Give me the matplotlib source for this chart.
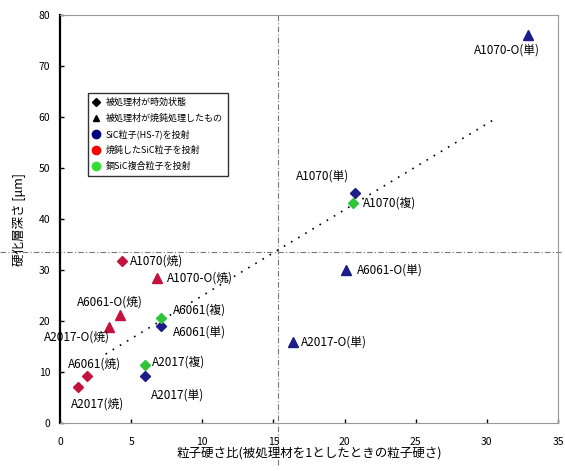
import matplotlib
matplotlib.use("Agg")
import matplotlib.pyplot as plt
from matplotlib.lines import Line2D

plt.rcParams['font.family'] = ['Noto Sans CJK JP', 'DejaVu Sans']

# ---- data ----
labels = ["A1070-O(単)", "A1070(単)", "A6061-O(単)", "A2017-O(単)", "A6061(単)", "A2017(単)",
          "A1070(焼)", "A1070-O(焼)", "A6061-O(焼)", "A2017-O(焼)", "A6061(焼)", "A2017(焼)",
          "A1070(複)", "A6061(複)", "A2017(複)"]
hardness_ratio = [32.9, 20.7, 20.1, 16.4, 7.1, 6.0,
                  4.35, 6.8, 4.2, 3.45, 1.9, 1.3,
                  20.6, 7.1, 6.0]
depth = [76.0, 45.1, 30.0, 15.9, 19.0, 9.2,
         31.8, 28.4, 21.2, 18.8, 9.2, 7.1,
         43.1, 20.6, 11.4]
material = ["annealed", "aged", "annealed", "annealed", "aged", "aged",
            "aged", "annealed", "annealed", "annealed", "aged", "aged",
            "aged", "aged", "aged"]
particle = ["SiC", "SiC", "SiC", "SiC", "SiC", "SiC",
            "annealedSiC", "annealedSiC", "annealedSiC", "annealedSiC", "annealedSiC", "annealedSiC",
            "composite", "composite", "composite"]
trend_x = [3.2, 30.5]
trend_y = [13.5, 59.5]
ref_x = 15.3
ref_y = 33.5
legend_labels = ["被処理材が時効状態", "被処理材が焼鈍処理したもの", "SiC粒子(HS-7)を投射",
                 "焼鈍したSiC粒子を投射", "銅SiC複合粒子を投射"]
x_ticks = [0, 5, 10, 15, 20, 25, 30, 35]
y_ticks = [0, 10, 20, 30, 40, 50, 60, 70, 80]

# ---- styles ----
point_colors = {"SiC": "#1c1c8a", "annealedSiC": "#c4123e", "composite": "#2fc43a"}
legend_colors = ["#000000", "#000000", "#00007f", "#ff0000", "#33dd33"]
markers = {"aged": "D", "annealed": "^"}
msize = {"aged": 5.5, "annealed": 7}
# label offsets in pixels (dx, dy) and horizontal alignment
offsets = [(-21, -15, "center"), (-32, 17, "center"), (11, 0, "left"), (8, 0, "left"),
           (12, -6, "left"), (32, -19, "center"),
           (8, 0, "left"), (10, 0, "left"), (-10, 13, "center"), (-32, -10, "center"),
           (7, 12, "center"), (19, -17, "center"),
           (10, 0, "left"), (12, 8, "left"), (7, 3, "left")]

fig = plt.figure(figsize=(5.65, 4.71), dpi=100)
ax = fig.add_axes([60 / 565, 1 - 423 / 471, 498 / 565, 408 / 471])
ax.set_xlim(0, 35)
ax.set_ylim(0, 80)

# reference lines (extending past the frame)
ax.plot([ref_x, ref_x], [-8.3, 80], color="#777777", lw=0.8, ls=(0, (5, 2, 1, 2)),
        clip_on=False, zorder=1)
ax.plot([-4.2, 35.2], [ref_y, ref_y], color="#777777", lw=0.8, ls=(0, (5, 2, 1, 2)),
        clip_on=False, zorder=1)

# trend line
ax.plot(trend_x, trend_y, color="black", lw=1.2, ls=(0, (1, 4)), zorder=2)

for i in range(len(labels)):
    ax.plot(hardness_ratio[i], depth[i], marker=markers[material[i]],
            ms=msize[material[i]], color=point_colors[particle[i]],
            mec=point_colors[particle[i]], ls="none", zorder=3)
    dx, dy, ha = offsets[i]
    ax.annotate(labels[i], (hardness_ratio[i], depth[i]), xytext=(dx, dy),
                textcoords="offset pixels", ha=ha, va="center", fontsize=8.5,
                annotation_clip=False, zorder=4)

# legend
handles = [Line2D([], [], marker="D", ms=4, color=legend_colors[0], ls="none"),
           Line2D([], [], marker="^", ms=5, color=legend_colors[1], ls="none"),
           Line2D([], [], marker="o", ms=6, color=legend_colors[2], ls="none"),
           Line2D([], [], marker="o", ms=6, color=legend_colors[3], ls="none"),
           Line2D([], [], marker="o", ms=6, color=legend_colors[4], ls="none")]
leg = ax.legend(handles, legend_labels, loc="upper left",
                bbox_to_anchor=((88 - 60) / 498, (423 - 93) / 408),
                fontsize=6.5, frameon=True, fancybox=False, edgecolor="black",
                handlelength=0.8, handletextpad=0.7, labelspacing=0.75,
                borderpad=0.5, borderaxespad=0)
leg.get_frame().set_linewidth(1.0)

ax.set_xticks(x_ticks)
ax.set_yticks(y_ticks)
ax.tick_params(direction="in", length=3, width=1, labelsize=7.5, colors="black")
ax.tick_params(axis="x", pad=10)
ax.tick_params(axis="y", pad=7)
for s in ["top", "right", "bottom"]:
    ax.spines[s].set_color("#999999")
    ax.spines[s].set_linewidth(0.8)
ax.spines["left"].set_color("black")
ax.spines["left"].set_linewidth(1.6)

ax.set_xlabel("粒子硬さ比(被処理材を1としたときの粒子硬さ)", fontsize=9, labelpad=0)
ax.set_ylabel("硬化層深さ [μm]", fontsize=9, labelpad=9)

fig.savefig("out.png", dpi=100)
